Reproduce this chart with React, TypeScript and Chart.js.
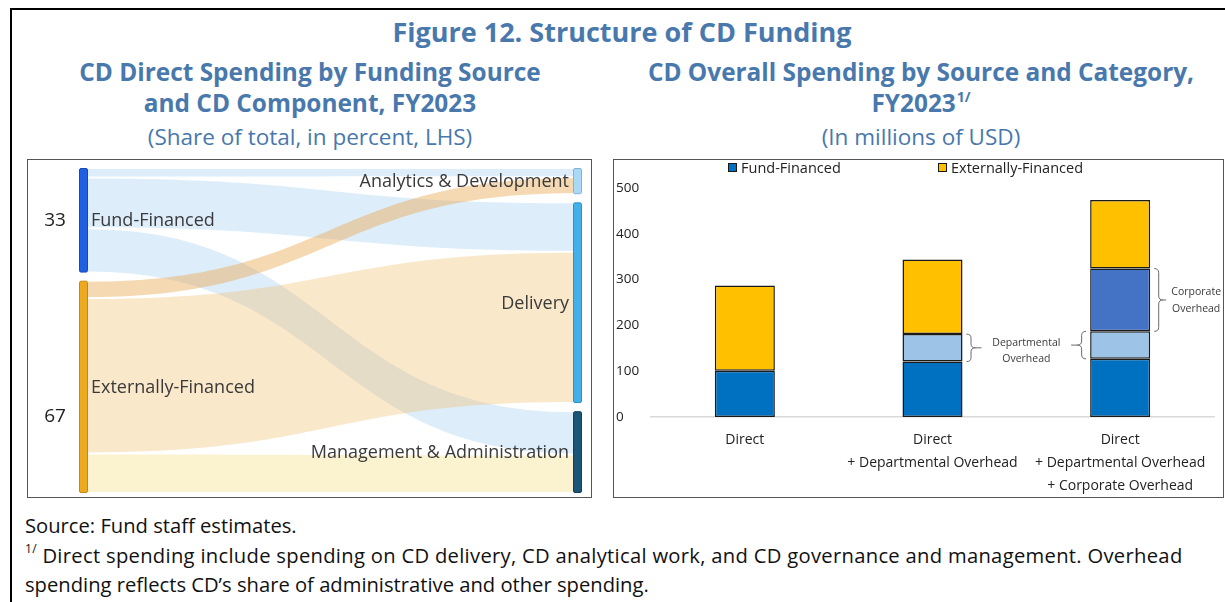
import React, { useEffect, useRef } from 'react';
import { Chart, registerables } from 'chart.js';

Chart.register(...registerables);

const FONT = '"Open Sans", "Noto Sans", "DejaVu Sans", sans-serif';

// ---------- Left panel: Sankey (share of total, percent) ----------
const sourceLabels = ['Fund-Financed', 'Externally-Financed'];
const sourceShares = [33, 67];
const targetLabels = ['Analytics & Development', 'Delivery', 'Management & Administration'];
const fundToTargets = [3, 16, 14];
const externalToTargets = [5.5, 49, 12.5];

// ---------- Right panel: stacked bars (millions of USD) ----------
const barCategories = [
  ['Direct'],
  ['Direct', '+ Departmental Overhead'],
  ['Direct', '+ Departmental Overhead', '+ Corporate Overhead'],
];
const fundFinanced = [101, 121, 127];
const departmentalOverhead = [null, 60, 60];
const corporateOverhead = [null, null, 137];
const externallyFinanced = [186, 163, 150];
const yTickValues = [0, 100, 200, 300, 400, 500];

// ---------- styles ----------
const sourceStyle = [
  { fill: '#1f5fe4', stroke: '#1848b5' },
  { fill: '#eeaa1e', stroke: '#c68812' },
];
const targetStyle = [
  { fill: '#aad8f5', stroke: '#7db6da' },
  { fill: '#44b0ea', stroke: '#2b92cc' },
  { fill: '#1b5679', stroke: '#113f5b' },
];
const flowStyle = [
  ['rgba(165,207,242,0.38)', 'rgba(165,207,242,0.38)', 'rgba(165,207,242,0.38)'],
  ['rgba(234,172,88,0.46)', 'rgba(242,192,112,0.36)', 'rgba(245,218,125,0.36)'],
];
const valueLabelAnchor = [0.5, 0.64];

function sankeyLayout(chart: any) {
  const xs = chart.scales.x;
  const ys = chart.scales.y;
  const GAP = 2.5;
  const NODE_W = 9;
  const flows = [fundToTargets, externalToTargets];
  const stack = (vals: number[]) => {
    const total = vals.reduce((a, b) => a + b, 0);
    const k = (100 - (vals.length - 1) * GAP) / total;
    let acc = 0;
    return vals.map((v) => {
      const s = acc;
      const e = acc + v * k;
      acc = e + GAP;
      return [s, e];
    });
  };
  const srcSpan = stack(sourceShares);
  const tgtTotals = targetLabels.map((_, j) => flows.reduce((a, f) => a + f[j], 0));
  const tgtSpan = stack(tgtTotals);
  const srcCur = srcSpan.map((s) => s[0]);
  const tgtCur = tgtSpan.map((s) => s[0]);
  const segs: any[] = [];
  flows.forEach((f, i) =>
    f.forEach((v, j) => {
      const sh = (v * (srcSpan[i][1] - srcSpan[i][0])) / sourceShares[i];
      const th = (v * (tgtSpan[j][1] - tgtSpan[j][0])) / tgtTotals[j];
      segs.push({ i, j, s0: srcCur[i], s1: srcCur[i] + sh, t0: tgtCur[j], t1: tgtCur[j] + th });
      srcCur[i] += sh;
      tgtCur[j] += th;
    })
  );
  return {
    xL: xs.getPixelForValue(0),
    xR: xs.getPixelForValue(1),
    NODE_W,
    srcSpan,
    tgtSpan,
    segs,
    py: (v: number) => ys.getPixelForValue(v),
  };
}

const sankeyPlugin = {
  id: 'sankeyPlugin',
  beforeDatasetsDraw(chart: any) {
    const { ctx } = chart;
    const L = sankeyLayout(chart);
    const x0 = L.xL + L.NODE_W;
    const x1 = L.xR - L.NODE_W;
    const xm = (x0 + x1) / 2;
    const inset = 1;
    ctx.save();
    L.segs.forEach((s: any) => {
      const a0 = L.py(s.s0) + inset;
      const a1 = L.py(s.s1) - inset;
      const b0 = L.py(s.t0) + inset;
      const b1 = L.py(s.t1) - inset;
      ctx.beginPath();
      ctx.moveTo(x0, a0);
      ctx.bezierCurveTo(xm, a0, xm, b0, x1, b0);
      ctx.lineTo(x1, b1);
      ctx.bezierCurveTo(xm, b1, xm, a1, x0, a1);
      ctx.closePath();
      ctx.fillStyle = flowStyle[s.i][s.j];
      ctx.fill();
    });
    ctx.restore();
  },
  afterDatasetsDraw(chart: any) {
    const { ctx } = chart;
    const L = sankeyLayout(chart);
    ctx.save();
    const node = (x: number, y0: number, y1: number, st: any) => {
      ctx.beginPath();
      ctx.roundRect(x + 0.5, y0 + 0.5, L.NODE_W - 1, y1 - y0 - 1, 1.5);
      ctx.fillStyle = st.fill;
      ctx.fill();
      ctx.strokeStyle = st.stroke;
      ctx.lineWidth = 1;
      ctx.stroke();
    };
    ctx.textBaseline = 'middle';
    L.srcSpan.forEach((sp: number[], i: number) => {
      const y0 = L.py(sp[0]);
      const y1 = L.py(sp[1]);
      node(L.xL, y0, y1, sourceStyle[i]);
      ctx.fillStyle = '#3a3a3a';
      ctx.font = `18px ${FONT}`;
      ctx.textAlign = 'left';
      ctx.fillText(sourceLabels[i], L.xL + L.NODE_W + 3, (y0 + y1) / 2 + 1);
      ctx.font = `19px ${FONT}`;
      ctx.textAlign = 'center';
      ctx.fillStyle = '#222';
      ctx.fillText(String(sourceShares[i]), L.xL - 24, y0 + (y1 - y0) * valueLabelAnchor[i]);
    });
    L.tgtSpan.forEach((sp: number[], j: number) => {
      const y0 = L.py(sp[0]);
      const y1 = L.py(sp[1]);
      node(L.xR - L.NODE_W, y0, y1, targetStyle[j]);
      ctx.fillStyle = '#3a3a3a';
      ctx.font = `18px ${FONT}`;
      ctx.textAlign = 'right';
      ctx.fillText(targetLabels[j], L.xR - L.NODE_W - 4, (y0 + y1) / 2 + 1);
    });
    ctx.restore();
  },
};

function drawBrace(ctx: any, x: number, yTop: number, yBot: number, dir: number, dash: number) {
  const w = 4.5 * dir;
  const r = 4;
  const ym = (yTop + yBot) / 2;
  ctx.beginPath();
  ctx.moveTo(x, yTop);
  ctx.quadraticCurveTo(x + w, yTop, x + w, yTop + r);
  ctx.lineTo(x + w, ym - r);
  ctx.quadraticCurveTo(x + w, ym, x + 2 * w, ym);
  ctx.quadraticCurveTo(x + w, ym, x + w, ym + r);
  ctx.lineTo(x + w, yBot - r);
  ctx.quadraticCurveTo(x + w, yBot, x, yBot);
  ctx.moveTo(x + 2 * w, ym);
  ctx.lineTo(x + 2 * w + dash * dir, ym);
  ctx.stroke();
}

const barDecorPlugin = {
  id: 'barDecor',
  afterDatasetsDraw(chart: any) {
    const { ctx, chartArea } = chart;
    ctx.save();
    // legend (only the two funding sources)
    const legendDs = [chart.data.datasets[0], chart.data.datasets[3]];
    const offsets = [77, 287];
    ctx.font = `14.5px ${FONT}`;
    ctx.textBaseline = 'middle';
    ctx.textAlign = 'left';
    legendDs.forEach((ds: any, k: number) => {
      const bx = chartArea.left + offsets[k];
      const by = chartArea.top - 25;
      ctx.fillStyle = ds.backgroundColor;
      ctx.fillRect(bx, by, 9, 9);
      ctx.strokeStyle = '#1a1a1a';
      ctx.lineWidth = 1;
      ctx.strokeRect(bx + 0.5, by + 0.5, 8, 8);
      ctx.fillStyle = '#222';
      ctx.fillText(ds.label, bx + 13, by + 5.5);
    });

    // braces and annotations
    ctx.strokeStyle = '#6a6a6a';
    ctx.lineWidth = 1;
    ctx.fillStyle = '#3a3a3a';
    ctx.font = `10.5px ${FONT}`;
    ctx.textAlign = 'center';
    const dept = chart.getDatasetMeta(1).data;
    const corp = chart.getDatasetMeta(2).data;
    const d2 = dept[1];
    const d3 = dept[2];
    const c3 = corp[2];
    const d2Right = d2.x + d2.width / 2;
    const d3Left = d3.x - d3.width / 2;
    drawBrace(ctx, d2Right + 4, d2.y, d2.base, 1, 6);
    drawBrace(ctx, d3Left - 4, d3.y, d3.base, -1, 6);
    const deptWords = chart.data.datasets[1].label.split(' ');
    const dMid = (d2.y + d2.base) / 2;
    ctx.fillText(deptWords[0], (d2Right + d3Left) / 2, dMid - 5);
    ctx.fillText(deptWords[1], (d2Right + d3Left) / 2, dMid + 11);
    const c3Right = c3.x + c3.width / 2;
    drawBrace(ctx, c3Right + 4, c3.y, c3.base, 1, 3);
    const corpWords = chart.data.datasets[2].label.split(' ');
    const cMid = (c3.y + c3.base) / 2;
    ctx.fillText(corpWords[0], c3Right + 46, cMid - 8);
    ctx.fillText(corpWords[1], c3Right + 46, cMid + 9);
    ctx.restore();
  },
};

function SankeyChart() {
  const ref = useRef<HTMLCanvasElement | null>(null);
  useEffect(() => {
    if (!ref.current) return;
    const chart = new Chart(ref.current, {
      type: 'scatter',
      data: { datasets: [{ data: [], pointRadius: 0 }] },
      options: {
        animation: false,
        responsive: false,
        devicePixelRatio: 1,
        layout: { padding: { left: 51, right: 9, top: 8, bottom: 4 } },
        plugins: { legend: { display: false }, tooltip: { enabled: false } },
        scales: {
          x: { type: 'linear', min: 0, max: 1, display: false },
          y: { type: 'linear', min: 0, max: 100, reverse: true, display: false },
        },
      },
      plugins: [sankeyPlugin],
    } as any);
    return () => chart.destroy();
  }, []);
  return <canvas ref={ref} width={563} height={337} style={{ position: 'absolute', left: 0, top: 0 }} />;
}

function BarChart() {
  const ref = useRef<HTMLCanvasElement | null>(null);
  useEffect(() => {
    if (!ref.current) return;
    const common = { borderColor: '#1a1a1a', borderWidth: 1.5, borderSkipped: false, barPercentage: 0.32, categoryPercentage: 1 };
    const chart = new Chart(ref.current, {
      type: 'bar',
      data: {
        labels: barCategories,
        datasets: [
          { label: 'Fund-Financed', data: fundFinanced, backgroundColor: '#0070c0', ...common },
          { label: 'Departmental Overhead', data: departmentalOverhead, backgroundColor: '#9dc3e6', ...common },
          { label: 'Corporate Overhead', data: corporateOverhead, backgroundColor: '#4472c4', ...common },
          { label: 'Externally-Financed', data: externallyFinanced, backgroundColor: '#ffc000', ...common },
        ],
      },
      options: {
        animation: false,
        responsive: false,
        devicePixelRatio: 1,
        layout: { padding: { left: 2, right: 8, top: 28, bottom: 0 } },
        plugins: { legend: { display: false }, tooltip: { enabled: false } },
        scales: {
          x: {
            stacked: true,
            grid: { display: false, drawTicks: false },
            border: { display: true, color: '#d9d9d9', width: 1.5 },
            ticks: {
              color: '#222',
              font: { family: FONT, size: 14, lineHeight: 1.64 },
              padding: 12,
              maxRotation: 0,
              autoSkip: false,
            },
            afterFit: (s: any) => {
              s.height = 79;
            },
          },
          y: {
            stacked: true,
            min: 0,
            max: 500,
            grid: { display: false, drawTicks: false },
            border: { display: false },
            afterBuildTicks: (s: any) => {
              s.ticks = yTickValues.map((v) => ({ value: v }));
            },
            ticks: {
              color: '#222',
              font: { family: FONT, size: 13.5 },
              crossAlign: 'far',
            },
            afterFit: (s: any) => {
              s.width = 35;
            },
          },
        },
      },
      plugins: [barDecorPlugin],
    } as any);
    return () => chart.destroy();
  }, []);
  return <canvas ref={ref} width={608} height={336} style={{ position: 'absolute', left: 0, top: 0 }} />;
}

function CText(props: { cx: number; cy: number; size: number; bold?: boolean; children: any }) {
  const h = Math.round(props.size * 1.4);
  return (
    <div
      style={{
        position: 'absolute',
        left: props.cx - 400,
        width: 800,
        top: props.cy - h / 2,
        height: h,
        lineHeight: `${h}px`,
        textAlign: 'center',
        fontSize: props.size,
        fontWeight: props.bold ? 700 : 400,
        color: '#4878ac',
        whiteSpace: 'nowrap',
      }}
    >
      {props.children}
    </div>
  );
}

function LText(props: { x: number; cy: number; size: number; spacing?: number; children: any }) {
  const h = Math.round(props.size * 1.4);
  return (
    <div
      style={{
        position: 'absolute',
        left: props.x,
        top: props.cy - h / 2,
        height: h,
        lineHeight: `${h}px`,
        fontSize: props.size,
        letterSpacing: props.spacing ? `${props.spacing}px` : undefined,
        color: '#111',
        whiteSpace: 'nowrap',
      }}
    >
      {props.children}
    </div>
  );
}

export default function App() {
  return (
    <div
      style={{
        position: 'absolute',
        left: 0,
        top: 0,
        width: 1225,
        height: 602,
        overflow: 'hidden',
        background: '#fff',
        fontFamily: FONT,
      }}
    >
      <div style={{ position: 'absolute', left: 10, top: 8, width: 1300, height: 700, borderTop: '2px solid #000', borderLeft: '2px solid #000' }} />
      <CText cx={622} cy={32} size={27} bold>Figure 12. Structure of CD Funding</CText>
      <CText cx={310} cy={72} size={24.4} bold>CD Direct Spending by Funding Source</CText>
      <CText cx={310} cy={103} size={24.4} bold>and CD Component, FY2023</CText>
      <CText cx={310} cy={136} size={22.5}>(Share of total, in percent, LHS)</CText>
      <CText cx={921} cy={72} size={24.4} bold>CD Overall Spending by Source and Category,</CText>
      <CText cx={921} cy={103} size={24.4} bold>
        FY2023<sup style={{ fontSize: 14, verticalAlign: 'top', lineHeight: '22px', marginLeft: 1 }}>1/</sup>
      </CText>
      <CText cx={921} cy={136} size={22.5}>(In millions of USD)</CText>

      <div style={{ position: 'absolute', left: 27, top: 159, width: 565, height: 339, boxSizing: 'border-box', border: '1px solid #555' }}>
        <SankeyChart />
      </div>
      <div style={{ position: 'absolute', left: 613, top: 159, width: 611, height: 339, boxSizing: 'border-box', border: '1px solid #555' }}>
        <BarChart />
      </div>

      <LText x={25} cy={525} size={20.2}>Source: Fund staff estimates.</LText>
      <LText x={25} cy={555} size={20.2} spacing={0.3}>
        <sup style={{ fontSize: 12, verticalAlign: 'top', lineHeight: '16px' }}>1/</sup> Direct spending include spending on CD delivery, CD analytical work, and CD governance and management. Overhead
      </LText>
      <LText x={25} cy={584} size={20.2}>spending reflects CD’s share of administrative and other spending.</LText>
    </div>
  );
}
